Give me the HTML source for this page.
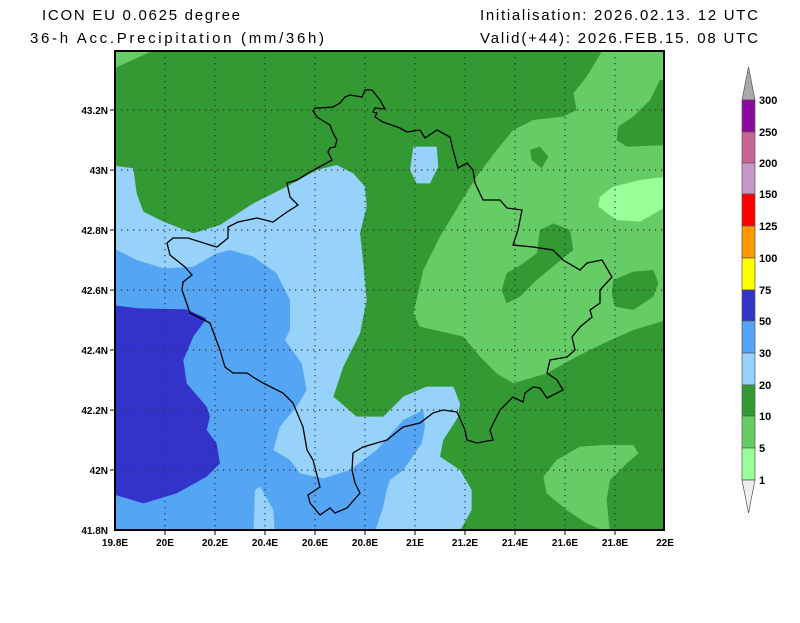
<!DOCTYPE html>
<html><head><meta charset="utf-8"><style>
body{margin:0;background:#fff;width:800px;height:618px;overflow:hidden}
text{font-family:"Liberation Sans",sans-serif}
</style></head><body>
<svg width="800" height="618" viewBox="0 0 800 618" xmlns="http://www.w3.org/2000/svg">
<rect width="800" height="618" fill="#fff"/>
<g font-size="15" fill="#000">
<text x="42" y="20" textLength="198" lengthAdjust="spacing">ICON EU 0.0625 degree</text>
<text x="30" y="43" textLength="294" lengthAdjust="spacing">36-h Acc.Precipitation (mm/36h)</text>
<text x="480" y="20" textLength="278" lengthAdjust="spacing">Initialisation: 2026.02.13. 12 UTC</text>
<text x="480" y="43" textLength="278" lengthAdjust="spacing">Valid(+44): 2026.FEB.15. 08 UTC</text>
</g>
<defs><clipPath id="c"><rect x="115" y="51" width="550" height="479"/></clipPath></defs>
<g clip-path="url(#c)">
<rect x="100" y="40" width="600" height="500" fill="#339933"/>
<polygon points="100,40 160,40 150,52 115,68 100,75" fill="#66cc66"/>
<g transform="translate(400,50) scale(0.33333)">
<polygon fill="#66cc66" points="620,-20 800,-20 800,90 780,90 750,150 700,200 655,230 650,270 680,290 800,285 800,810 700,840 610,880 530,920 440,970 340,1000 290,970 240,920 190,860 60,830 40,790 70,660 120,560 180,460 230,380 290,300 340,240 400,210 490,200 530,180 520,130 560,80"/>
<polygon fill="#339933" points="390,300 420,290 445,320 425,355 395,330"/>
<polygon fill="#339933" points="420,540 460,520 510,540 520,600 470,640 410,690 360,740 320,760 305,720 320,670 370,640 410,610"/>
<polygon fill="#339933" points="640,690 700,665 760,660 775,700 760,740 700,780 645,770 635,730"/>
<polygon fill="#99ff99" points="600,440 640,410 720,390 800,380 800,470 720,515 650,510 595,470"/>
<polygon fill="#66cc66" points="430,1280 470,1230 540,1190 610,1185 700,1185 715,1210 680,1240 630,1290 620,1350 630,1450 560,1420 500,1380 440,1330"/>
</g>
<g transform="translate(110,150) scale(0.33333)">
<polygon fill="#96d2fa" points="0,45 70,55 80,130 100,185 160,215 250,250 330,225 430,160 530,110 620,60 680,45 730,70 765,110 770,170 750,250 760,340 770,450 750,550 700,650 670,740 740,800 820,800 880,740 950,710 1030,710 1050,760 1045,800 1000,870 990,920 1050,960 1085,1020 1085,1080 1040,1160 0,1160"/>
<polygon fill="#96d2fa" points="900,60 910,-10 980,-10 985,50 960,100 920,100"/>
<polygon fill="#55a5f5" points="0,290 80,330 160,355 250,350 320,310 360,300 430,320 500,370 540,450 540,540 525,570 575,640 590,720 560,770 510,830 490,900 540,930 570,970 640,985 720,960 800,900 880,810 940,780 945,830 935,880 880,960 840,990 830,1020 820,1070 790,1160 495,1160 490,1080 450,1010 435,1020 430,1160 0,1160"/>
<polygon fill="#3333cc" points="0,465 90,475 230,478 290,505 250,560 220,630 230,700 290,770 300,800 290,840 320,880 330,940 290,980 200,1030 100,1060 0,1030"/>
</g>
<polyline fill="none" stroke="#000" stroke-width="1.3" points="420,130 407,132 400,128 383,122 375,117 377,113 373,112 375,108 385,109 380,100 372,90 365,90 362,97 350,95 345,97 340,103 333,107 320,108 315,108 313,111 317,117 325,122 330,125 333,133 337,140 335,147 330,148 328,152 332,160 323,165 310,172 297,180 287,183 290,197 298,205 287,212 273,222 257,218 238,222 228,227 228,238 217,247 210,245 188,238 173,238 167,243 170,255 185,267 192,275 183,282 182,290 190,313 210,323 220,350 225,367 233,373 247,373 253,377 263,383 283,393 293,403 303,427 307,450 313,460 320,487 308,495 310,503 320,515 330,508 335,513 347,508 360,493 355,483 352,470 353,453 363,447 387,440 403,427 420,423 433,413 443,410 457,412 465,430 467,440 477,443 493,440 490,430 500,410 513,397 523,402 525,393 533,387 540,388 547,398 563,390 557,380 547,373 550,360 567,357 575,350 572,337 580,327 592,317 590,310 600,303 600,290 612,277 602,260 587,263 580,270 563,260 553,250 533,247 513,245 518,230 522,210 507,208 500,200 483,200 475,183 473,170 467,163 458,168 453,150 450,137 437,130 425,138 420,130"/>
<g stroke="#333" stroke-width="1.2" stroke-dasharray="1.2,4.8">
<line x1="165" y1="51" x2="165" y2="530"/><line x1="215" y1="51" x2="215" y2="530"/><line x1="265" y1="51" x2="265" y2="530"/><line x1="315" y1="51" x2="315" y2="530"/><line x1="365" y1="51" x2="365" y2="530"/><line x1="415" y1="51" x2="415" y2="530"/><line x1="465" y1="51" x2="465" y2="530"/><line x1="515" y1="51" x2="515" y2="530"/><line x1="565" y1="51" x2="565" y2="530"/><line x1="615" y1="51" x2="615" y2="530"/>
<line x1="115" y1="110" x2="665" y2="110"/><line x1="115" y1="170" x2="665" y2="170"/><line x1="115" y1="230" x2="665" y2="230"/><line x1="115" y1="290" x2="665" y2="290"/><line x1="115" y1="350" x2="665" y2="350"/><line x1="115" y1="410" x2="665" y2="410"/><line x1="115" y1="470" x2="665" y2="470"/>
</g>
</g>
<rect x="115" y="51" width="549" height="479" fill="none" stroke="#000" stroke-width="2"/>
<g stroke="#000" stroke-width="1">
<line x1="110" y1="110" x2="115" y2="110"/><line x1="110" y1="170" x2="115" y2="170"/><line x1="110" y1="230" x2="115" y2="230"/><line x1="110" y1="290" x2="115" y2="290"/><line x1="110" y1="350" x2="115" y2="350"/><line x1="110" y1="410" x2="115" y2="410"/><line x1="110" y1="470" x2="115" y2="470"/>
<line x1="165" y1="530" x2="165" y2="535"/><line x1="215" y1="530" x2="215" y2="535"/><line x1="265" y1="530" x2="265" y2="535"/><line x1="315" y1="530" x2="315" y2="535"/><line x1="365" y1="530" x2="365" y2="535"/><line x1="415" y1="530" x2="415" y2="535"/><line x1="465" y1="530" x2="465" y2="535"/><line x1="515" y1="530" x2="515" y2="535"/><line x1="565" y1="530" x2="565" y2="535"/><line x1="615" y1="530" x2="615" y2="535"/>
</g>
<g font-size="10" font-weight="bold" text-anchor="end">
<text x="108" y="114">43.2N</text><text x="108" y="174">43N</text><text x="108" y="234">42.8N</text><text x="108" y="294">42.6N</text><text x="108" y="354">42.4N</text><text x="108" y="414">42.2N</text><text x="108" y="474">42N</text><text x="108" y="534">41.8N</text>
</g>
<g font-size="10" font-weight="bold" text-anchor="middle">
<text x="115" y="546">19.8E</text><text x="165" y="546">20E</text><text x="215" y="546">20.2E</text><text x="265" y="546">20.4E</text><text x="315" y="546">20.6E</text><text x="365" y="546">20.8E</text><text x="415" y="546">21E</text><text x="465" y="546">21.2E</text><text x="515" y="546">21.4E</text><text x="565" y="546">21.6E</text><text x="615" y="546">21.8E</text><text x="665" y="546">22E</text>
</g>
<g stroke="#555" stroke-width="0.7">
<polygon points="742,100 748.5,67 755,100" fill="#aaaaaa"/>
<rect x="742" y="100" width="13" height="32" fill="#8a0a9e"/>
<rect x="742" y="132" width="13" height="31" fill="#c86496"/>
<rect x="742" y="163" width="13" height="31" fill="#c896c8"/>
<rect x="742" y="194" width="13" height="32" fill="#ff0000"/>
<rect x="742" y="226" width="13" height="32" fill="#ff9900"/>
<rect x="742" y="258" width="13" height="32" fill="#ffff00"/>
<rect x="742" y="290" width="13" height="31" fill="#3333cc"/>
<rect x="742" y="321" width="13" height="32" fill="#55a5f5"/>
<rect x="742" y="353" width="13" height="32" fill="#96d2fa"/>
<rect x="742" y="385" width="13" height="31" fill="#339933"/>
<rect x="742" y="416" width="13" height="32" fill="#66cc66"/>
<rect x="742" y="448" width="13" height="32" fill="#99ff99"/>
<polygon points="742,480 748.5,513 755,480" fill="#eeeeee"/>
</g>
<g font-size="11" font-weight="bold">
<text x="759" y="104">300</text><text x="759" y="136">250</text><text x="759" y="167">200</text><text x="759" y="198">150</text><text x="759" y="230">125</text><text x="759" y="262">100</text><text x="759" y="294">75</text><text x="759" y="325">50</text><text x="759" y="357">30</text><text x="759" y="389">20</text><text x="759" y="420">10</text><text x="759" y="452">5</text><text x="759" y="484">1</text>
</g>
</svg>
</body></html>
